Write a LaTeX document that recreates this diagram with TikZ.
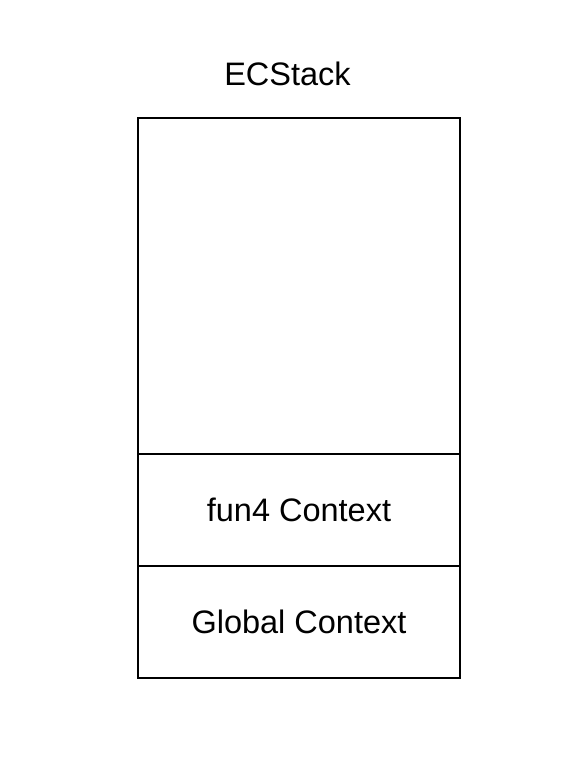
\documentclass[tikz,border=0pt]{standalone}
\usepackage{fontspec}
\setmainfont{Liberation Sans}
\usetikzlibrary{positioning}

\begin{document}
\begin{tikzpicture}[x=1pt, y=1pt,
			thick,
			cell/.style={draw=black, line width=2pt, minimum width=322pt, inner sep=0pt, outer sep=0pt, font=\fontsize{32.5}{38}\selectfont},
			title/.style={font=\fontsize{32.5}{38}\selectfont}]
			
			\useasboundingbox (0,0) rectangle (570,770);
			\node[cell, minimum height=112pt] (global) at (299,148) {Global Context};
			\node[cell, minimum height=112pt, above=0pt of global] (fun4) {fun4 Context};
			\node[cell, minimum height=336pt, above=0pt of fun4] (empty) {};
			\node[title] (ecs) at (287.5,696) {ECStack};
		\end{tikzpicture}
\end{document}
